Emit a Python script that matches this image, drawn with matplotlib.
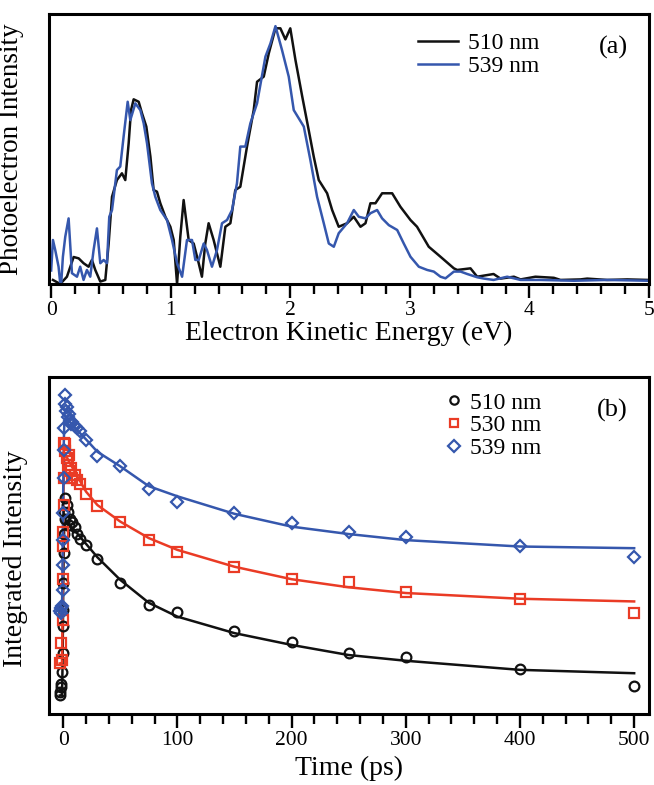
import matplotlib
matplotlib.use("Agg")
import matplotlib.pyplot as plt
from matplotlib.ticker import MultipleLocator, NullLocator
from matplotlib.lines import Line2D

plt.rcParams['font.family'] = ['Liberation Serif', 'DejaVu Serif']

# ---------------- panel (a) data ----------------
e_510 = [0.015, 0.076, 0.132, 0.188, 0.23, 0.271, 0.313, 0.341, 0.369, 0.411, 0.453, 0.481,
         0.509, 0.55, 0.592, 0.62, 0.648, 0.668, 0.69, 0.732, 0.76, 0.796, 0.83, 0.857, 0.885,
         0.913, 0.955, 0.997, 1.025, 1.053, 1.08, 1.108, 1.15, 1.192, 1.234, 1.261, 1.289, 1.317,
         1.359, 1.415, 1.457, 1.499, 1.54, 1.582, 1.638, 1.694, 1.722, 1.778, 1.82, 1.876, 1.917,
         1.959, 2.0, 2.043, 2.1, 2.154, 2.196, 2.238, 2.308, 2.35, 2.405, 2.475, 2.531, 2.587,
         2.629, 2.67, 2.712, 2.768, 2.852, 2.921, 3.005, 3.06, 3.158, 3.256, 3.368, 3.396, 3.507,
         3.563, 3.70, 3.758, 3.87, 3.926, 4.05, 4.204, 4.26, 4.427, 4.483, 4.65, 4.818, 5.0]
i_510 = [0.015, 0.0, 0.027, 0.10, 0.095, 0.077, 0.064, 0.089, 0.052, 0.009, 0.015, 0.15,
         0.323, 0.385, 0.41, 0.385, 0.52, 0.644, 0.684, 0.675, 0.632, 0.583, 0.472, 0.348, 0.342,
         0.299, 0.249, 0.212, 0.163, 0.0, 0.175, 0.311, 0.163, 0.15, 0.077, 0.027, 0.15, 0.225,
         0.163, 0.064, 0.212, 0.225, 0.348, 0.36, 0.509, 0.644, 0.749, 0.768, 0.854, 0.947, 0.947,
         0.906, 0.947, 0.83, 0.694, 0.57, 0.472, 0.385, 0.336, 0.274, 0.212, 0.225, 0.249, 0.212,
         0.225, 0.299, 0.299, 0.336, 0.336, 0.286, 0.237, 0.212, 0.138, 0.101, 0.058, 0.052, 0.058,
         0.027, 0.037, 0.02, 0.027, 0.017, 0.027, 0.023, 0.015, 0.017, 0.02, 0.015, 0.017, 0.015]

e_539 = [0.0, 0.015, 0.034, 0.062, 0.081, 0.098, 0.118, 0.146, 0.174, 0.216, 0.243, 0.271, 0.299,
         0.327, 0.355, 0.383, 0.411, 0.439, 0.467, 0.486, 0.509, 0.55, 0.578, 0.606, 0.64, 0.662,
         0.704, 0.746, 0.774, 0.802, 0.843, 0.871, 0.913, 0.969, 1.011, 1.053, 1.095, 1.136, 1.178,
         1.206, 1.234, 1.276, 1.303, 1.345, 1.387, 1.429, 1.471, 1.513, 1.554, 1.582, 1.624, 1.666,
         1.722, 1.792, 1.834, 1.876, 1.931, 1.987, 2.029, 2.113, 2.168, 2.224, 2.28, 2.322, 2.364,
         2.405, 2.475, 2.531, 2.573, 2.629, 2.67, 2.726, 2.768, 2.824, 2.894, 2.949, 3.005, 3.075,
         3.145, 3.2, 3.256, 3.298, 3.368, 3.424, 3.48, 3.563, 3.62, 3.70, 3.814, 3.926, 4.093,
         4.372, 4.65, 5.0]
i_539 = [0.05, 0.163, 0.126, 0.064, -0.02, 0.10, 0.175, 0.243, 0.04, 0.027, 0.064, 0.015, 0.052,
         0.027, 0.126, 0.206, 0.077, 0.089, 0.077, 0.249, 0.274, 0.422, 0.435, 0.546, 0.675, 0.607,
         0.669, 0.644, 0.595, 0.52, 0.373, 0.323, 0.274, 0.237, 0.163, 0.077, 0.027, 0.163, 0.163,
         0.089, 0.089, 0.15, 0.126, 0.064, 0.126, 0.225, 0.237, 0.274, 0.373, 0.509, 0.509, 0.595,
         0.669, 0.842, 0.891, 0.955, 0.866, 0.768, 0.644, 0.583, 0.459, 0.323, 0.225, 0.15, 0.138,
         0.188, 0.225, 0.274, 0.249, 0.243, 0.262, 0.274, 0.243, 0.218, 0.2, 0.15, 0.101, 0.064,
         0.052, 0.046, 0.027, 0.021, 0.046, 0.046, 0.037, 0.025, 0.02, 0.015, 0.027, 0.015, 0.015,
         0.012, 0.015, 0.012]

# ---------------- panel (b) data ----------------
t_510 = [-3, -2.5, -2, -1.5, -1, -0.5, -0.25, 0, 0.25, 0.5, 0.75, 1, 1.5, 2, 3, 4, 5, 6, 8, 10,
         12, 15, 20, 30, 50, 75, 100, 150, 200, 250, 300, 400, 500]
v_510 = [5.5, 6.5, 8.0, 9.0, 12.6, 18, 26, 31, 39, 47.7, 53.5, 60, 64.1, 58, 62, 60, 56, 58, 57,
         55.6, 53.5, 52, 50.2, 45.9, 38.8, 32.4, 30.4, 24.7, 21.5, 18.0, 16.8, 13.3, 8.4]
t_530 = [-3, -2, -1, -0.5, -0.25, 0, 0.25, 0.5, 0.75, 1, 1.5, 2, 3, 4, 5, 6, 7, 8, 10, 12, 15,
         20, 30, 50, 75, 100, 150, 200, 250, 300, 400, 500]
v_530 = [15.1, 21.0, 16, 28, 40, 50, 54, 62, 70, 80.5, 78, 80, 76, 74, 77, 72, 73, 70, 71, 69.5,
         68.3, 65.3, 61.6, 57.1, 51.5, 48.2, 43.5, 40.1, 39.1, 36.2, 34.0, 29.9]
t_539 = [-3, -2, -1.5, -1, -0.5, -0.25, 0, 0.25, 0.5, 0.75, 1, 1.5, 2, 2.5, 3, 4, 5, 6, 7, 8,
         10, 12, 15, 20, 30, 50, 75, 100, 150, 200, 250, 300, 400, 500]
v_539 = [30.5, 31.5, 30, 32, 36.8, 44.3, 51.7, 59.6, 70.0, 78.4, 84.8, 94.7, 92, 90, 91, 88, 89,
         87, 86, 86.5, 85.5, 85, 83.9, 81.4, 76.6, 73.5, 66.9, 63.0, 59.5, 56.8, 53.9, 52.5,
         50.0, 46.7]

# fitted curves
tf = [-3, -1, -0.5, 0, 0.5, 1, 2, 5, 10, 20, 30, 50, 75, 100, 150, 200, 250, 300, 400, 500]
f_510 = [5.5, 5.6, 15, 35, 50, 56, 57, 56, 54.5, 50.5, 46.5, 39.8, 33.0, 28.9, 24.0, 20.5,
         17.5, 15.8, 13.1, 12.1]
f_530 = [15, 15.2, 30, 55, 70, 76, 77, 75, 72, 66, 62, 57.1, 52.2, 48.7, 43.7, 40.0, 37.6,
         35.9, 34.2, 33.4]
f_539 = [30.5, 31, 45, 65, 80, 86, 88, 87, 85, 81.5, 77.8, 73.5, 67.6, 64.6, 59.4, 55.6, 53.4,
         51.6, 49.7, 49.2]

BLUE = '#3557ad'
RED = '#ea3b25'
BLACK = '#111111'

W, H = 654, 785
fig = plt.figure(figsize=(W / 100, H / 100), dpi=100)
L, R = 49, 649
axa = fig.add_axes([L / W, 1 - 284 / H, (R - L) / W, 270 / H])
axb = fig.add_axes([L / W, 1 - 714 / H, (R - L) / W, 337 / H])

for ax in (axa, axb):
    for s in ax.spines.values():
        s.set_linewidth(2.2)
    ax.yaxis.set_major_locator(NullLocator())
    ax.tick_params(axis='x', which='major', direction='out', length=10, width=1.7,
                   labelsize=15.5, pad=2)
    ax.tick_params(axis='x', which='minor', direction='out', length=7, width=1.7)

# panel (a)
axa.plot(e_510, i_510, color=BLACK, lw=1.8, label='510 nm')
axa.plot(e_539, i_539, color=BLUE, lw=1.8, label='539 nm')
axa.set_xlim(-0.018, 5.0)
axa.set_ylim(0, 1.0)
axa.xaxis.set_major_locator(MultipleLocator(1))
axa.xaxis.set_minor_locator(MultipleLocator(0.2))
axa.set_xlabel('Electron Kinetic Energy (eV)', fontsize=20)
axa.set_ylabel('Photoelectron Intensity', fontsize=19.5)
axa.xaxis.set_label_coords(0.5, -0.135)
axa.yaxis.set_label_coords(-0.042, 0.5)
axa.legend(loc='upper left', bbox_to_anchor=(0.615, 0.93), frameon=False, fontsize=17,
           handlelength=1.7, handletextpad=0.4, labelspacing=0.05, borderpad=0,
           borderaxespad=0)
axa.text(0.965, 0.875, '(a)', transform=axa.transAxes, fontsize=19, ha='right', va='center')

# panel (b)
axb.plot(tf, f_510, color=BLACK, lw=1.8)
axb.plot(tf, f_530, color=RED, lw=1.8)
axb.plot(tf, f_539, color=BLUE, lw=1.8)
mk = dict(linestyle='none', markerfacecolor='none', markeredgewidth=1.6)
axb.plot(t_510, v_510, marker='o', markersize=7, markeredgecolor=BLACK, **mk)
axb.plot(t_530, v_530, marker='s', markersize=7, markeredgecolor=RED, **mk)
axb.plot(t_539, v_539, marker='D', markersize=6.5, markeredgecolor=BLUE, **mk)
axb.set_xlim(-12.4, 513)
axb.set_ylim(0, 100)
axb.xaxis.set_major_locator(MultipleLocator(100))
axb.xaxis.set_minor_locator(MultipleLocator(20))
axb.set_xlabel('Time (ps)', fontsize=20)
axb.set_ylabel('Integrated Intensity', fontsize=20)
axb.xaxis.set_label_coords(0.5, -0.125)
axb.yaxis.set_label_coords(-0.035, 0.46)
handles = [
    Line2D([], [], marker='o', markersize=6, markeredgecolor=BLACK, **mk),
    Line2D([], [], marker='s', markersize=6, markeredgecolor=RED, **mk),
    Line2D([], [], marker='D', markersize=6, markeredgecolor=BLUE, **mk),
]
axb.legend(handles, ['510 nm', '530 nm', '539 nm'], loc='upper left',
           bbox_to_anchor=(0.66, 0.955), frameon=False, fontsize=17, handlelength=0.8,
           handletextpad=0.25, labelspacing=0.05, borderpad=0, borderaxespad=0)
axb.text(0.965, 0.9, '(b)', transform=axb.transAxes, fontsize=19, ha='right', va='center')

fig.savefig('out.png', dpi=100)
